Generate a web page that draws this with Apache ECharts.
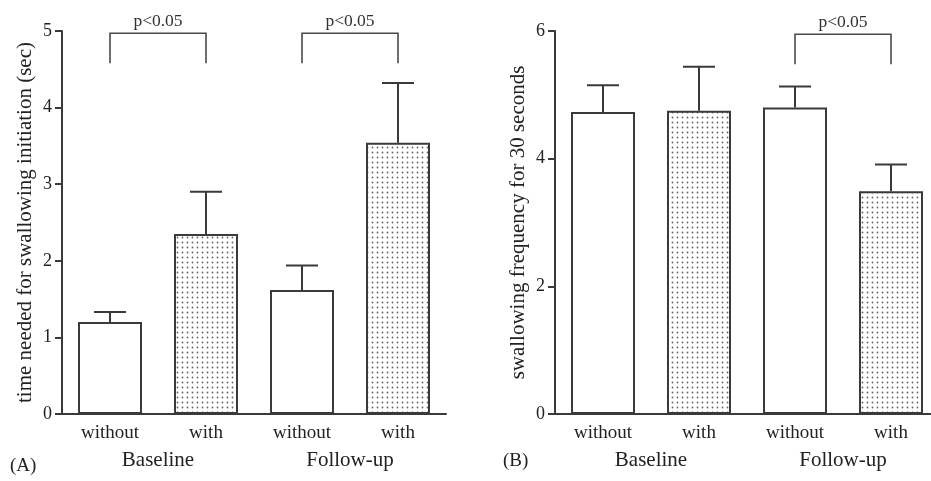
<!DOCTYPE html>
<html>
<head>
<meta charset="utf-8">
<script src="https://cdn.jsdelivr.net/npm/echarts@6/dist/echarts.min.js"></script>
<style>html,body{margin:0;padding:0;background:#fff}#c{width:931px;height:481px}</style>
</head>
<body>
<div id="c"></div>
<script>
// ---- data ----
const categories = ['without', 'with', 'without', 'with'];
const groups = ['Baseline', 'Follow-up'];
const timeMean = [1.20, 2.35, 1.62, 3.54];
const timeUpper = [1.33, 2.90, 1.94, 4.32];
const freqMean = [4.73, 4.75, 4.80, 3.49];
const freqUpper = [5.15, 5.44, 5.13, 3.91];
const sigLabel = 'p<0.05';
const bracketsA = [[0, 1, 4.97, 4.58], [2, 3, 4.97, 4.58]];
const bracketsB = [[2, 3, 5.95, 5.48]];
const nameA = 'time needed for swallowing initiation (sec)';
const nameB = 'swallowing frequency for 30 seconds';

const FONT = 'Liberation Serif';
const LINE = '#3a3a3a';
const TXT = '#222';

// dotted pattern
const cv = document.createElement('canvas');
cv.width = 5; cv.height = 5;
const ctx = cv.getContext('2d');
ctx.fillStyle = '#fff'; ctx.fillRect(0, 0, 5, 5);
ctx.fillStyle = '#666';
ctx.beginPath(); ctx.arc(2.5, 2.5, 0.9, 0, Math.PI * 2); ctx.fill();
const pattern = { image: cv, repeat: 'repeat' };

function barData(vals) {
  return vals.map((v, i) => ({ value: v, itemStyle: { color: (i % 2 === 1) ? pattern : '#fff' } }));
}
function errData(m, u) { return m.map((v, i) => [i, v, u[i]]); }

function errRender(params, api) {
  const x = api.value(0);
  const m = api.coord([x, api.value(1)]);
  const u = api.coord([x, api.value(2)]);
  const hw = api.size([1, 0])[0] * 0.1667;
  const st = { stroke: LINE, lineWidth: 2 };
  return { type: 'group', children: [
    { type: 'line', shape: { x1: m[0], y1: m[1], x2: u[0], y2: u[1] }, style: st },
    { type: 'line', shape: { x1: u[0] - hw, y1: u[1], x2: u[0] + hw, y2: u[1] }, style: st }
  ]};
}
function brRender(params, api) {
  const a = api.coord([api.value(0), api.value(3)]);
  const b = api.coord([api.value(0), api.value(2)]);
  const c = api.coord([api.value(1), api.value(2)]);
  const d = api.coord([api.value(1), api.value(3)]);
  return { type: 'group', children: [
    { type: 'polyline', shape: { points: [a, b, c, d] }, style: { stroke: '#4a4a4a', lineWidth: 1.6, fill: null } },
    { type: 'text', style: { text: sigLabel, x: (b[0] + c[0]) / 2, y: b[1] - 12, align: 'center', verticalAlign: 'middle',
      fontSize: 17.5, fontFamily: FONT, fill: '#333' } }
  ]};
}

function xMain(gi) {
  return { type: 'category', gridIndex: gi, data: categories,
    axisLine: { lineStyle: { color: LINE, width: 2 } },
    axisTick: { alignWithLabel: true, length: 7, lineStyle: { color: LINE, width: 2 } },
    axisLabel: { margin: 10, fontSize: 19, fontFamily: FONT, color: TXT } };
}
function xGroup(gi) {
  return { type: 'category', gridIndex: gi, data: groups, position: 'bottom', offset: 0,
    axisLine: { show: false }, axisTick: { show: false },
    axisLabel: { margin: 36, fontSize: 21, fontFamily: FONT, color: TXT } };
}
function yAx(gi, max, interval, name) {
  return { type: 'value', gridIndex: gi, min: 0, max: max, interval: interval,
    splitLine: { show: false },
    axisLine: { show: true, lineStyle: { color: LINE, width: 2 } },
    axisTick: { show: true, length: 7, lineStyle: { color: LINE, width: 2 } },
    axisLabel: { margin: 10, fontSize: 18, fontFamily: FONT, color: TXT },
    name: name, nameLocation: 'middle', nameGap: 26,
    nameTextStyle: { fontSize: 21, fontFamily: FONT, color: TXT } };
}

const chart = echarts.init(document.getElementById('c'), null, { renderer: 'canvas' });
chart.setOption({
  animation: false,
  backgroundColor: '#fff',
  grid: [
    { left: 62, top: 31, width: 384, height: 383, outerBoundsMode: 'none', containLabel: false },
    { left: 555, top: 31, width: 384, height: 383, outerBoundsMode: 'none', containLabel: false }
  ],
  xAxis: [xMain(0), xGroup(0), xMain(1), xGroup(1)],
  yAxis: [yAx(0, 5, 1, nameA), yAx(1, 6, 2, nameB)],
  series: [
    { type: 'bar', xAxisIndex: 0, yAxisIndex: 0, barWidth: 64, data: barData(timeMean),
      itemStyle: { borderColor: LINE, borderWidth: 2 } },
    { type: 'custom', xAxisIndex: 0, yAxisIndex: 0, data: errData(timeMean, timeUpper), renderItem: errRender,
      encode: { x: 0, y: [1, 2] }, z: 5 },
    { type: 'custom', xAxisIndex: 0, yAxisIndex: 0, data: bracketsA, renderItem: brRender,
      encode: { x: [0, 1], y: [2, 3] }, z: 5 },
    { type: 'bar', xAxisIndex: 2, yAxisIndex: 1, barWidth: 64, data: barData(freqMean),
      itemStyle: { borderColor: LINE, borderWidth: 2 } },
    { type: 'custom', xAxisIndex: 2, yAxisIndex: 1, data: errData(freqMean, freqUpper), renderItem: errRender,
      encode: { x: 0, y: [1, 2] }, z: 5 },
    { type: 'custom', xAxisIndex: 2, yAxisIndex: 1, data: bracketsB, renderItem: brRender,
      encode: { x: [0, 1], y: [2, 3] }, z: 5 }
  ],
  graphic: [
    { type: 'text', left: 10, top: 457, style: { text: '(A)', fontSize: 19, fontFamily: FONT, fill: TXT } },
    { type: 'text', left: 503, top: 452, style: { text: '(B)', fontSize: 19, fontFamily: FONT, fill: TXT } }
  ]
});
</script>
</body>
</html>
